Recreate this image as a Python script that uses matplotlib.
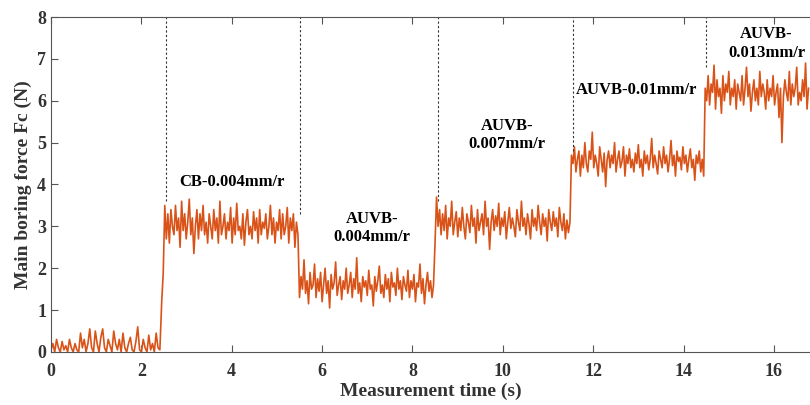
import numpy as np
import matplotlib
matplotlib.use("Agg")
import matplotlib.pyplot as plt

# segment boundaries (s) and force readings (N)
bounds = [0.0, 2.45, 5.5, 8.5, 11.52, 14.48, 16.8]

seg0 = [0.05, 0.2, 0.0, 0.3, 0.1, 0.0, 0.25, 0.05, 0.15, 0.0, 0.3, 0.1, 0.0, 0.2, 0.05,
        0.0, 0.45, 0.1, 0.3, 0.0, 0.2, 0.55, 0.1, 0.0, 0.5, 0.2, 0.0, 0.35, 0.55, 0.1,
        0.0, 0.3, 0.15, 0.0, 0.5, 0.2, 0.05, 0.3, 0.0, 0.45, 0.1, 0.0, 0.2, 0.35, 0.05,
        0.0, 0.25, 0.6, 0.05, 0.0, 0.3, 0.1, 0.0, 0.4, 0.05, 0.2, 0.0, 0.45, 0.1, 0.05]
seg1 = [1.2, 1.9, 3.5, 2.7, 3.3, 2.6, 3.4, 3.0, 2.8, 3.5, 2.9, 3.2, 2.5, 3.6, 2.9, 3.3,
        2.7, 3.1, 3.65, 2.8, 3.2, 2.35, 3.0, 3.4, 2.7, 3.3, 2.9, 3.5, 2.8, 3.1, 2.6, 3.3,
        3.0, 2.7, 3.4, 2.9, 3.2, 2.6, 3.6, 2.8, 3.0, 3.3, 2.7, 3.1, 2.9, 3.45, 2.6, 3.2,
        2.8, 3.55, 2.9, 3.0, 2.7, 3.3, 2.55, 3.1, 3.4, 2.8, 3.0, 2.7, 3.35, 2.9, 3.2, 2.6,
        3.4, 2.8, 3.1, 2.95, 3.3, 2.7, 3.0, 3.5, 2.8, 3.2, 2.6, 3.1, 2.9, 3.4, 2.7, 3.3,
        2.8, 3.0, 3.45, 2.6, 3.2, 2.9, 3.3, 2.5, 3.1, 2.8]
seg2 = [1.3, 1.8, 1.5, 2.2, 1.4, 1.7, 1.15, 1.9, 1.5, 1.6, 2.1, 1.3, 1.75, 1.45, 1.9,
        1.2, 1.6, 2.0, 1.4, 1.7, 1.05, 1.85, 1.5, 1.65, 2.15, 1.35, 1.6, 1.8, 1.25, 1.7,
        1.5, 2.0, 1.4, 1.6, 1.9, 1.3, 1.75, 1.5, 2.25, 1.4, 1.65, 1.2, 1.8, 1.55, 1.7,
        1.35, 1.95, 1.5, 1.6, 1.1, 1.8, 1.45, 1.7, 2.05, 1.4, 1.6, 1.3, 1.85, 1.5, 1.75,
        1.2, 1.9, 1.55, 1.65, 1.35, 2.0, 1.5, 1.7, 1.25, 1.8, 1.6, 1.45, 1.95, 1.3, 1.7,
        1.5, 1.85, 1.2, 1.65, 1.55, 2.1, 1.4, 1.75, 1.15, 1.6, 1.9, 1.45, 1.7, 1.3, 1.6]
seg3 = [2.6, 3.7, 3.0, 3.4, 2.8, 3.3, 2.9, 3.5, 2.7, 3.2, 3.0, 3.6, 2.8, 3.1, 3.35,
        2.75, 3.2, 2.9, 3.45, 3.0, 2.7, 3.3, 3.1, 2.85, 3.5, 3.0, 3.2, 2.6, 3.4, 2.9,
        3.1, 3.3, 2.8, 3.6, 3.0, 3.2, 2.45, 3.1, 3.4, 2.9, 3.25, 3.0, 3.55, 2.8, 3.2,
        3.0, 3.35, 2.7, 3.1, 3.45, 2.95, 3.2, 3.0, 2.75, 3.4, 3.1, 2.9, 3.6, 3.0, 3.2,
        2.8, 3.3, 3.05, 2.7, 3.4, 3.0, 3.2, 2.9, 3.5, 3.1, 2.8, 3.3, 3.0, 3.2, 2.65,
        3.4, 3.1, 2.9, 3.35, 3.0, 3.2, 2.75, 3.45, 3.1, 2.9, 3.3, 2.7, 3.15, 2.85, 3.1]
seg4 = [4.7, 4.5, 4.9, 4.3, 4.6, 4.8, 4.2, 4.7, 4.4, 5.0, 4.5, 4.3, 4.8, 4.6, 5.25,
        4.4, 4.7, 4.5, 4.2, 4.9, 4.6, 4.3, 4.75, 3.95, 4.6, 4.8, 4.4, 4.7, 4.5, 5.0,
        4.3, 4.6, 4.8, 4.4, 4.55, 4.9, 4.2, 4.7, 4.5, 4.85, 4.4, 4.6, 4.3, 4.75, 4.5,
        4.95, 4.4, 4.6, 4.2, 4.8, 4.5, 4.7, 4.35, 4.6, 5.1, 4.4, 4.7, 4.5, 4.25, 4.8,
        4.6, 4.4, 4.9, 4.5, 4.7, 4.3, 4.6, 5.05, 4.45, 4.7, 4.2, 4.8, 4.55, 4.65, 4.35,
        4.9, 4.5, 4.7, 4.3, 4.6, 4.85, 4.4, 4.6, 4.1, 4.7, 4.5, 4.8, 4.3, 4.6, 4.2]
seg5 = [6.3, 6.0, 6.6, 5.9, 6.4, 6.2, 6.85, 5.8, 6.5, 6.1, 6.3, 5.7, 6.6, 6.0, 6.4,
        6.2, 6.7, 5.9, 6.3, 6.1, 6.5, 5.8, 6.4, 6.2, 6.0, 6.6, 5.9, 6.3, 6.8, 6.1,
        6.4, 5.75, 6.2, 6.5, 6.0, 6.3, 5.9, 6.7, 6.1, 6.4, 6.2, 5.8, 6.5, 6.0, 6.3,
        6.1, 6.6, 5.9, 6.2, 6.4, 5.6, 6.3, 5.0, 6.1, 6.5, 6.2, 6.0, 6.7, 5.9, 6.4,
        6.1, 6.3, 6.8, 5.9, 6.2, 6.0, 6.5, 6.1, 6.9, 5.8, 6.3]
segments = [seg0, seg1, seg2, seg3, seg4, seg5]

# dotted separators: x position and where they stop at the trace
sep_x = [2.55, 5.5, 8.56, 11.55, 14.49]
sep_bottom = [3.6, 3.3, 3.6, 4.8, 6.8]

labels = ["CB-0.004mm/r", "AUVB-\n0.004mm/r", "AUVB-\n0.007mm/r",
          "AUVB-0.01mm/r", "AUVB-\n0.013mm/r"]
label_x = [4.0, 7.1, 10.1, 12.96, 15.84]
label_y = [4.06, 2.96, 5.18, 6.25, 7.37]

t = []
f = []
for i, seg in enumerate(segments):
    t.extend(np.linspace(bounds[i], bounds[i + 1], len(seg), endpoint=False))
    f.extend(seg)

plt.rcParams['font.family'] = ['Liberation Serif', 'DejaVu Serif']
plt.rcParams['font.weight'] = 'bold'

fig = plt.figure(figsize=(8.1, 4.05), dpi=100)
ax = fig.add_axes([0.063, 0.131, 0.937, 0.827])

ax.plot(t, f, color='#D95319', linewidth=1.2)
ax.vlines(sep_x, sep_bottom, 8, colors='#333333', linestyles=(0, (2, 2)), linewidth=0.8)

for x, y, s in zip(label_x, label_y, labels):
    ax.text(x, y, s, ha='center', va='center', fontsize=12, fontweight='bold',
            linespacing=1.2)

ax.set_xlim(0, 16.8)
ax.set_ylim(0, 8)
ax.set_xticks([0, 2, 4, 6, 8, 10, 12, 14, 16])
ax.set_yticks(range(0, 9))
ax.tick_params(direction='in', top=True, labelsize=13, length=5, color='#555555')
ax.tick_params(axis='x', pad=8)
for lbl in ax.get_xticklabels() + ax.get_yticklabels():
    lbl.set_fontweight('bold')
    lbl.set_color('#333333')
ax.spines['right'].set_visible(False)
for sp in ['left', 'top', 'bottom']:
    ax.spines[sp].set_color('#555555')
    ax.spines[sp].set_linewidth(0.8)

ax.set_xlabel('Measurement time (s)', fontsize=14, fontweight='bold', color='#333333',
              labelpad=2)
ax.set_ylabel('Main boring force Fc (N)', fontsize=14, fontweight='bold', color='#333333',
              labelpad=4)

fig.savefig('out.png', dpi=100)
